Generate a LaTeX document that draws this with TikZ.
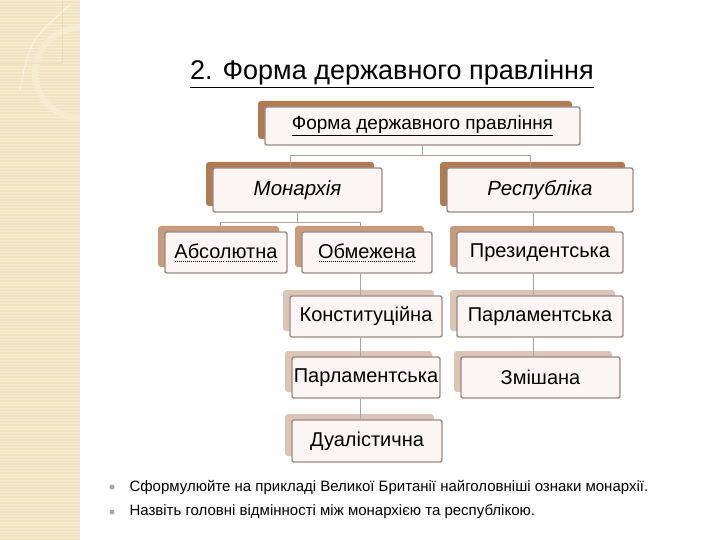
\documentclass[tikz,border=0pt]{standalone}
\usepackage{fontspec}
\setmainfont{Liberation Sans}
\usetikzlibrary{calc}
\definecolor{strip}{HTML}{F2E4C0}
\definecolor{darkb}{HTML}{B07A52}
\definecolor{midb}{HTML}{C79C7C}
\definecolor{lightb}{HTML}{DCC5B6}
\definecolor{frame}{HTML}{9A8A84}
\definecolor{fillw}{HTML}{FBF6F3}
\tikzset{
  fbox/.style={draw=frame,line width=1.4pt,fill=fillw,rounded corners=2pt,inner sep=0pt,font=\fontsize{20}{24}\selectfont},
  conn/.style={draw=frame!80,line width=1pt},
}
\newcommand\dotul[1]{\setbox0=\hbox{#1}\leavevmode\rlap{\raisebox{-3pt}{\makebox[\wd0][l]{\xleaders\hbox to 2pt{\hss\rule{1pt}{0.8pt}\hss}\hfill}}}\box0}
% name, x1, y1, x2, y2, back colour, text
\newcommand\bx[7]{%
  \fill[#6,rounded corners=3pt] (#2-7,#3-6) rectangle (#4-8,#5-6);
  \node[fbox,minimum width={#4-#2},minimum height={#5-#3}] (#1) at ({(#2+#4)/2},{(#3+#5)/2}) {#7};
}
\begin{document}
\begin{tikzpicture}[x=1pt,y=-1pt]
\useasboundingbox (0,0) rectangle (720,540);
\fill[white] (0,0) rectangle (720,540);
\fill[strip] (0,0) rectangle (80,540);
\foreach \i in {0,3,...,540} \draw[white,opacity=0.35,line width=0.6pt] (0,\i) -- (80,\i);
\draw[strip!70!white,line width=6pt] (80,118) arc[start angle=90,end angle=270,radius=45];
\draw[strip!60!brown,opacity=0.25,line width=0.6pt] (0,63) -- (62,63) (62,0) -- (62,63);
\draw[white,opacity=0.6,line width=1pt] (20,90) .. controls (30,40) .. (70,5);
\node[font=\fontsize{27}{32}\selectfont] (title) at (392,74) {\underline{2. Форма державного правління}};
\bx{top}{265}{107}{580}{145}{darkb}{\fontsize{19}{22}\selectfont\underline{Форма державного правління}}
\bx{mon}{213}{168}{382}{212}{darkb}{\fontsize{20.5}{24}\selectfont\itshape Монархія}
\bx{rep}{447}{168}{633}{212}{darkb}{\fontsize{20.5}{24}\selectfont\itshape Республіка}
\bx{abs}{165}{232}{287}{273}{midb}{\dotul{Абсолютна}}
\bx{obm}{302}{232}{432}{273}{midb}{\dotul{Обмежена}}
\bx{pre}{457}{232}{623}{273}{midb}{Президентська}
\bx{kon}{290}{296}{442}{337}{lightb}{Конституційна}
\bx{par}{457}{296}{623}{337}{lightb}{Парламентська}
\bx{pm}{292}{357}{440}{398}{lightb}{Парламентська}
\bx{zm}{461}{357}{620}{398}{lightb}{Змішана}
\bx{dua}{292}{420}{442}{462}{lightb}{Дуалістична}
\draw[conn] (top.south) -- ++(0,10) coordinate (t1);
\draw[conn] (mon.north -| 290,0) |- (t1) -| (rep.north -| 530,0);
\draw[conn] (mon.south) -- ++(0,10) coordinate (m1);
\draw[conn] (abs.north -| 220,0) |- (m1) -| (obm.north -| 360,0);
\draw[conn] (obm.south -| 360,0) -- (kon.north -| 360,0);
\draw[conn] (kon.south -| 360,0) -- (pm.north -| 360,0);
\draw[conn] (pm.south -| 360,0) -- (dua.north -| 360,0);
\draw[conn] (rep.south -| 533,0) -- (pre.north -| 533,0);
\draw[conn] (pre.south -| 533,0) -- (par.north -| 533,0);
\draw[conn] (par.south -| 533,0) -- (zm.north -| 533,0);
\fill[gray!70] (112,487) circle (2.5);
\fill[gray!70] (112,512) circle (2.5);
\node[anchor=west,font=\fontsize{15}{18}\selectfont] (b1) at (126,487) {Сформулюйте на прикладі Великої Британії найголовніші ознаки монархії.};
\node[anchor=west,font=\fontsize{15}{18}\selectfont] (b2) at (126,512) {Назвіть головні відмінності між монархією та республікою.};
\end{tikzpicture}
\end{document}
